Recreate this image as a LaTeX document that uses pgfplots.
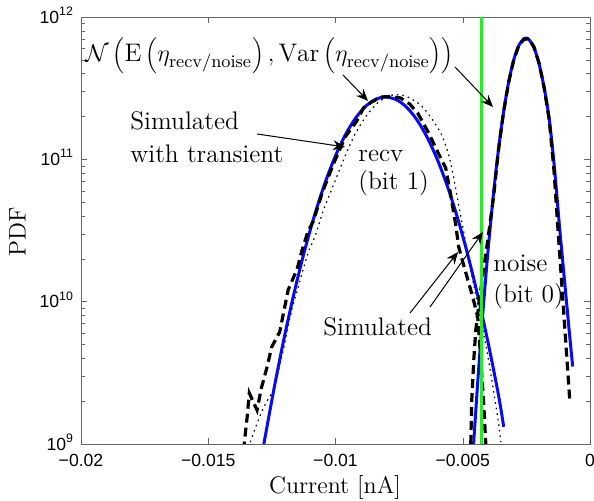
\documentclass[border=0pt]{standalone}
\usepackage{fontspec}
\usepackage{pgfplots}
\pgfplotsset{compat=1.18}
\usetikzlibrary{arrows.meta}
\newfontfamily\helv{Liberation Sans}
\definecolor{cblue}{RGB}{10,10,240}
\definecolor{cgreen}{RGB}{40,235,40}
\newcommand{\annfont}{\fontsize{12.7}{15}\selectfont}
\begin{document}
\begin{tikzpicture}
\begin{axis}[
  width=254.5pt, height=213.5pt, scale only axis,
  xmin=-0.02, xmax=0, ymin=1e9, ymax=1e12, ymode=log,
  scaled x ticks=false,
  xtick={-0.02,-0.015,-0.01,-0.005,0},
  xticklabels={−0.02,−0.015,−0.01,−0.005,0},
  ytick={1e9,1e10,1e11,1e12},
  yticklabels={10\textsuperscript{9},10\textsuperscript{10},10\textsuperscript{11},10\textsuperscript{12}},
  tick label style={font={\helv\fontsize{8.8}{10}\selectfont}},
  xticklabel style={yshift=-1.5pt},
  yticklabel style={yshift=1pt},
  axis line style={black!60},
  tick style={black!60},
  major tick length=3pt, minor tick length=1.8pt,
  xlabel={Current [nA]}, ylabel={PDF},
  label style={font=\fontsize{12}{14}\selectfont},
  xlabel style={at={(axis description cs:0.499,-0.103)}, anchor=center},
  ylabel style={at={(axis description cs:-0.125,0.4965)}, anchor=center},
  clip=true,
]
% simulated with transient (dotted)
\addplot[black, line width=0.6pt, dash pattern=on 0.8pt off 2pt, smooth, tension=0.4] coordinates {
(-0.013346,1.031e9) (-0.01315,1.293e9) (-0.012953,1.596e9) (-0.012717,1.970e9)
(-0.01248,2.316e9) (-0.012323,2.813e9) (-0.012165,3.763e9) (-0.012008,4.955e9)
(-0.01185,6.847e9) (-0.011693,9.165e9) (-0.011496,1.206e10) (-0.011299,1.614e10)
(-0.011063,2.232e10) (-0.010787,2.938e10) (-0.010472,4.403e10) (-0.010079,6.597e10)
(-0.009685,9.888e10) (-0.009291,1.435e11) (-0.008819,1.983e11) (-0.008307,2.527e11)
(-0.007756,2.830e11) (-0.007244,2.784e11) (-0.006654,2.408e11) (-0.006181,1.889e11)
(-0.005827,1.482e11) (-0.005551,1.072e11) (-0.005354,7.391e10) (-0.005197,5.176e10)
(-0.004961,3.084e10) (-0.004764,1.960e10) (-0.004528,1.206e10) (-0.004291,7.428e9)
(-0.004055,4.570e9) (-0.003858,2.813e9) (-0.003701,1.877e9) (-0.003583,1.358e9)
(-0.003504,1.031e9)};
% Gaussian fits (blue)
\addplot[cblue, line width=1.5pt, smooth] coordinates {
(-0.01285,9.2e8) (-0.0128,1.035e9) (-0.0124,2.535e9) (-0.0120,5.754e9)
(-0.0116,1.205e10) (-0.0112,2.333e10) (-0.0108,4.178e10) (-0.0104,6.918e10)
(-0.0100,1.059e11) (-0.0096,1.500e11) (-0.0092,1.959e11) (-0.0088,2.371e11)
(-0.0084,2.649e11) (-0.00803,2.742e11) (-0.0076,2.618e11) (-0.0072,2.317e11)
(-0.0068,1.892e11) (-0.0064,1.429e11) (-0.0060,9.977e10) (-0.0056,6.442e10)
(-0.0052,3.846e10) (-0.0048,2.123e10) (-0.0044,1.084e10) (-0.0040,5.105e9)
(-0.0036,2.228e9) (-0.00339,1.32e9)};
\addplot[cblue, line width=1.5pt, smooth] coordinates {
(-0.00458,9.62e8) (-0.0044,2.904e9) (-0.0042,8.79e9) (-0.0040,2.350e10)
(-0.0038,5.553e10) (-0.0036,1.157e11) (-0.0034,2.131e11) (-0.0032,3.46e11)
(-0.0030,4.97e11) (-0.0028,6.30e11) (-0.0026,7.04e11) (-0.00252,7.11e11)
(-0.0024,6.95e11) (-0.0022,6.07e11) (-0.0020,4.67e11) (-0.0018,3.175e11)
(-0.0016,1.905e11) (-0.0014,8.8e10) (-0.0012,3.4e10) (-0.0010,1.4e10)
(-0.0008,5.8e9) (-0.00068,3.5e9)};
% simulated (dashed)
\addplot[black, line width=1.6pt, dash pattern=on 4.5pt off 2.5pt] coordinates {
(-0.0136,9.0e8) (-0.013583,1.015e9) (-0.013476,1.521e9) (-0.013386,2.279e9)
(-0.013083,1.731e9) (-0.012913,2.471e9) (-0.012689,3.471e9) (-0.012508,4.797e9)
(-0.012193,6.115e9) (-0.012035,8.454e9) (-0.011862,1.206e10) (-0.011508,1.695e10)
(-0.011311,2.305e10) (-0.01109,3.084e10) (-0.010866,3.7e10) (-0.010512,5.891e10)
(-0.010079,9.3e10) (-0.009606,1.45e11) (-0.009173,1.85e11) (-0.008898,2.3e11)
(-0.008583,2.527e11) (-0.008228,2.740e11) (-0.007835,2.76e11) (-0.007441,2.697e11)
(-0.007087,2.447e11) (-0.006772,2.115e11) (-0.006339,1.530e11) (-0.005984,1.125e11)
(-0.005669,8.688e10) (-0.005472,5.612e10) (-0.005276,3.453e10) (-0.005157,2.419e10)
(-0.005,1.898e10) (-0.004764,1.351e10) (-0.004606,1.077e10) (-0.00441,7.795e9)
(-0.004331,4.955e9) (-0.004252,3.050e9) (-0.004173,1.877e9) (-0.004094,9.98e8)};
\addplot[black, line width=1.6pt, dash pattern=on 4.5pt off 2.5pt] coordinates {
(-0.004685,1.0e9) (-0.004646,2.035e9) (-0.004567,3.89e9) (-0.004488,6.31e9)
(-0.004370,9.46e9) (-0.004213,1.538e10) (-0.004016,2.71e10) (-0.00378,5.61e10)
(-0.0036,1.15e11) (-0.0034,2.12e11) (-0.0032,3.45e11) (-0.0030,4.95e11)
(-0.0028,6.28e11) (-0.0026,6.95e11) (-0.0024,7.05e11) (-0.0022,6.15e11)
(-0.0020,4.72e11) (-0.0018,3.18e11) (-0.0016,1.88e11) (-0.001417,8.41e10)
(-0.001299,4.13e10) (-0.001181,2.03e10) (-0.001063,1.01e10) (-0.000945,4.96e9)
(-0.000866,3.10e9) (-0.000787,1.94e9)};
% threshold
\addplot[cgreen, line width=1.6pt] coordinates {(-0.00425,1e9) (-0.00425,1e12)};
% annotations
\node[anchor=base west, inner sep=0, font=\annfont] at (axis description cs:0.0079,0.8946)
  {$\mathcal{N}\left(\mathrm{E}\left(\eta_{\mathrm{recv/noise}}\right),\mathrm{Var}\left(\eta_{\mathrm{recv/noise}}\right)\right)$};
\node[anchor=base west, inner sep=0, font=\annfont] at (axis description cs:0.0963,0.7354) {Simulated};
\node[anchor=base west, inner sep=0, font=\annfont] at (axis description cs:0.0963,0.6581) {with transient};
\node[anchor=base west, inner sep=0, font=\annfont] at (axis description cs:0.5442,0.6604) {recv};
\node[anchor=base west, inner sep=0, font=\annfont] at (axis description cs:0.5442,0.5948) {(bit 1)};
\node[anchor=base west, inner sep=0, font=\annfont] at (axis description cs:0.8094,0.4028) {noise};
\node[anchor=base west, inner sep=0, font=\annfont] at (axis description cs:0.8094,0.3302) {(bit 0)};
\node[anchor=base west, inner sep=0, font=\annfont] at (axis description cs:0.4754,0.2529) {Simulated};
\tikzset{ann/.style={black, line width=0.5pt, -{Stealth[length=6pt,width=5pt,inset=2pt]}}}
\draw[ann] (axis description cs:0.3458,0.7260) -- (axis description cs:0.5187,0.6956);
\draw[ann] (axis description cs:0.5147,0.8642) -- (axis description cs:0.5639,0.8033);
\draw[ann] (axis description cs:0.7348,0.8829) -- (axis description cs:0.8094,0.7892);
\draw[ann] (axis description cs:0.6464,0.3068) -- (axis description cs:0.7407,0.4496);
\draw[ann] (axis description cs:0.6857,0.3208) -- (axis description cs:0.7898,0.4965);
\end{axis}
\pgfresetboundingbox
\useasboundingbox (-40.5pt,-28.5pt) rectangle (256.5pt,222pt);
\end{tikzpicture}
\end{document}
